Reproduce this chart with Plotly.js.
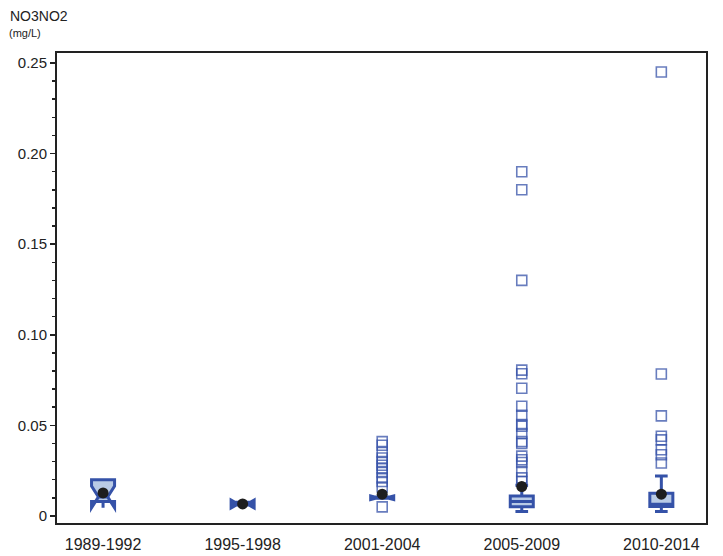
<!DOCTYPE html>
<html>
<head>
<meta charset="utf-8">
<script src="https://cdn.plot.ly/plotly-3.0.1.min.js"></script>
<style>html,body{margin:0;padding:0;background:#fff;}#chart{width:723px;height:556px;}</style>
</head>
<body>
<div id="chart"></div>
<script>
// Categories (sampling periods)
const periods = ['1989-1992', '1995-1998', '2001-2004', '2005-2009', '2010-2014'];

// Box statistics (mg/L)
const q1 =         [0.0080, 0.0060, 0.0097, 0.0050, 0.0052];
const medians =    [0.0105, 0.0066, 0.0101, 0.0080, 0.0065];
const q3 =         [0.0200, 0.0075, 0.0105, 0.0110, 0.0125];
const lowerFence = [0.0080, 0.0060, 0.0097, 0.0024, 0.0024];
const upperFence = [0.0200, 0.0075, 0.0105, 0.0170, 0.0220];
const notchSpans = [0.0060, 0.0022, 0.0010, 0.0025, 0.0020];
// which periods have notches drawn beyond the box (small samples)
const notchedPeriods = [true, true, true, false, false];

// Means
const means = [0.0127, 0.0066, 0.0120, 0.0162, 0.0120];

// Outliers per period
const out1989 = [];
const out1995 = [];
const out2001 = [0.041, 0.039, 0.035, 0.032, 0.030, 0.028, 0.026, 0.024, 0.021, 0.019, 0.016, 0.005];
const out2005 = [0.190, 0.180, 0.130, 0.0805, 0.0785, 0.0705, 0.0605, 0.0555, 0.0505, 0.0495,
                 0.0455, 0.0410, 0.0400, 0.0330, 0.0310, 0.0295, 0.0245, 0.0210, 0.0190];
const out2010 = [0.245, 0.0783, 0.0552, 0.0440, 0.0420, 0.0365, 0.0338, 0.0292];

// Axis ticks
const yTickVals = [0, 0.05, 0.10, 0.15, 0.20, 0.25];
const yTickText = ['0', '0.05', '0.10', '0.15', '0.20', '0.25'];

const outlierGroups = [out1989, out1995, out2001, out2005, out2010];
const outX = [], outY = [];
outlierGroups.forEach((g, i) => g.forEach(v => { outX.push(periods[i]); outY.push(v); }));

function pick(arr, flag) { return arr.filter((_, i) => notchedPeriods[i] === flag); }

const boxColor = '#3552a8';
const boxFill = '#b9cbe6';

function boxTrace(flag, extra) {
  return Object.assign({
    type: 'box',
    x: pick(periods, flag),
    q1: pick(q1, flag), median: pick(medians, flag), q3: pick(q3, flag),
    lowerfence: pick(lowerFence, flag), upperfence: pick(upperFence, flag),
    notchspan: pick(notchSpans, flag),
    boxpoints: false,
    width: 0.165,
    fillcolor: boxFill,
    line: {color: boxColor, width: 3},
    hoverinfo: 'skip',
    showlegend: false
  }, extra);
}

const traces = [
  boxTrace(true, {notched: true, notchwidth: 0.3, whiskerwidth: 0}),
  boxTrace(false, {notched: false, whiskerwidth: 0.55}),
  {
    type: 'scatter', mode: 'markers',
    x: outX, y: outY,
    marker: {symbol: 'square-open', size: 10, color: 'rgba(53,82,168,0.75)', line: {width: 1.6}},
    showlegend: false, cliponaxis: false
  },
  {
    type: 'scatter', mode: 'markers',
    x: periods, y: means,
    marker: {symbol: 'circle', size: 11, color: '#1e1e1e'},
    showlegend: false
  }
];

const layout = {
  width: 723, height: 556,
  margin: {l: 57, r: 17, t: 53, b: 33, pad: 0},
  paper_bgcolor: '#fff', plot_bgcolor: '#fff',
  font: {family: 'Liberation Sans, Arial, sans-serif', color: '#222', size: 14},
  boxmode: 'overlay',
  xaxis: {
    type: 'category',
    categoryarray: periods,
    range: [-0.33, 4.32],
    showgrid: false, zeroline: false,
    showline: true, linecolor: '#222', linewidth: 2, mirror: true,
    ticks: '',
    ticklabelstandoff: 6,
    tickfont: {size: 16, color: '#222'},
    fixedrange: true
  },
  yaxis: {
    range: [-0.0039, 0.2555],
    showgrid: false, zeroline: false,
    showline: true, linecolor: '#222', linewidth: 2, mirror: true,
    tickvals: yTickVals, ticktext: yTickText,
    ticks: 'outside', ticklen: 5, tickwidth: 1.5, tickcolor: '#222',
    minor: {dtick: 0.01, ticks: 'outside', ticklen: 3, tickwidth: 1.5, tickcolor: '#222'},
    tickfont: {size: 15, color: '#222'},
    fixedrange: true
  },
  annotations: [
    {text: 'NO3NO2', xref: 'paper', yref: 'paper', x: 0, y: 1, xanchor: 'left', yanchor: 'bottom',
     xshift: -49, yshift: 27, showarrow: false, font: {size: 14, color: '#222'}},
    {text: '(mg/L)', xref: 'paper', yref: 'paper', x: 0, y: 1, xanchor: 'left', yanchor: 'bottom',
     xshift: -50, yshift: 12, showarrow: false, font: {size: 11, color: '#222'}},
    {text: 'Parameter Stats', xref: 'paper', yref: 'paper', x: 0.5, y: 1, xanchor: 'center', yanchor: 'bottom',
     yshift: 48, showarrow: false, font: {size: 16, color: '#444'}}
  ]
};

Plotly.newPlot('chart', traces, layout, {displayModeBar: false, staticPlot: true});
</script>
</body>
</html>
